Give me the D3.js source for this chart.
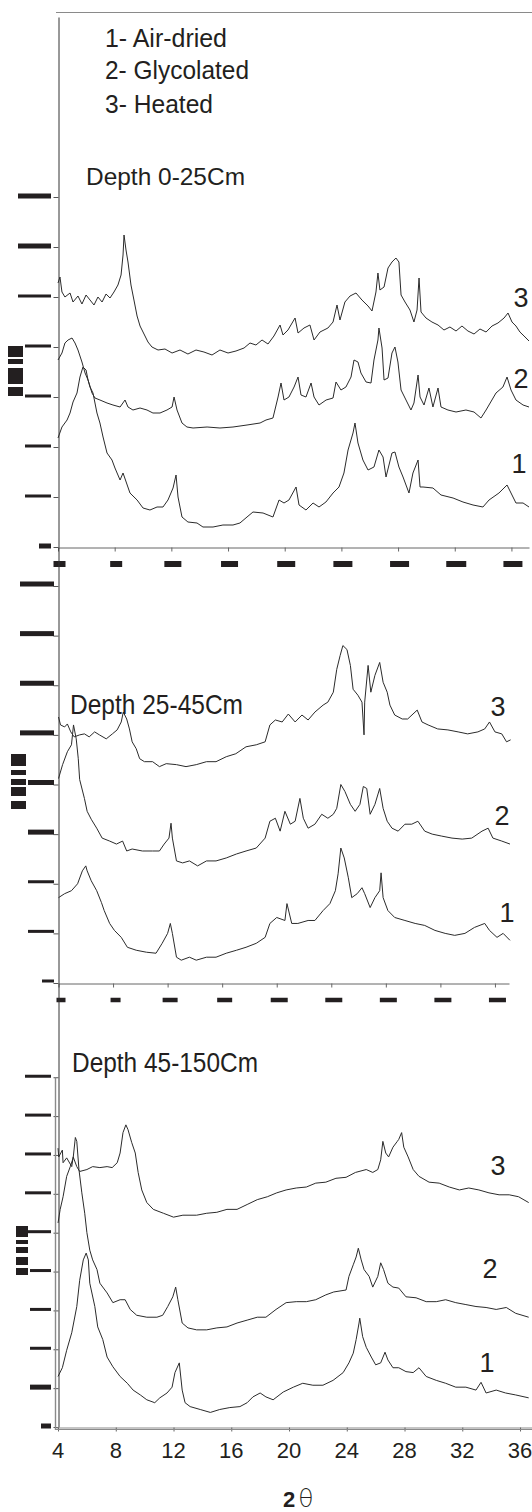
<!DOCTYPE html>
<html>
<head>
<meta charset="utf-8">
<script src="https://cdn.jsdelivr.net/npm/d3@7"></script>
<style>
  html, body { margin: 0; padding: 0; background: #fff; }
  svg { display: block; font-family: "Liberation Sans", Arial, sans-serif; }
</style>
</head>
<body>
<svg id="chart" width="532" height="1512"></svg>
<script>
/* XRD patterns of the clay fraction at three depths (2θ on x, counts on y).
   Tick labels on the intensity axes and panels 1–2 x axes are blacked out in the source. */

const THETA_TICKS = [4, 8, 12, 16, 20, 24, 28, 32, 36];
const LEGEND = ["1- Air-dried", "2- Glycolated", "3- Heated"];
const DEPTHS = ["Depth 0-25Cm", "Depth 25-45Cm", "Depth 45-150Cm"];
const CURVE_LABELS = ["1", "2", "3"];
const Y_TICKS_1 = [0, 50, 100, 150, 200, 250, 300, 350];
const Y_TICKS_2 = [0, 50, 100, 150, 200, 250, 300, 350, 400];
const Y_TICKS_3 = [0, 40, 80, 120, 160, 200, 240, 280, 320, 360];

// ---- Depth 0-25 cm : [2θ, counts]
const airDried_0_25 = [[4.0,109],[4.28,120],[4.64,127],[4.85,134],[5.06,145],[5.34,154],[5.55,170],[5.76,180],[5.98,177],[6.12,167],[6.26,160],[6.47,154],[6.75,134],[6.96,124],[7.18,110],[7.46,94],[7.81,87],[8.02,79],[8.38,67],[8.59,74],[9.08,54],[9.58,47],[10.0,39],[10.49,37],[10.99,40],[11.41,40],[11.76,47],[12.12,59],[12.33,72],[12.47,50],[12.75,30],[13.17,25],[13.81,24],[14.23,20],[14.94,20],[15.64,22],[16.35,22],[16.84,24],[17.34,30],[17.76,35],[18.47,34],[19.17,30],[19.6,47],[19.95,44],[20.3,47],[20.8,60],[21.01,42],[21.5,37],[22.0,44],[22.42,40],[22.91,45],[23.41,54],[23.83,60],[24.18,74],[24.47,97],[24.82,114],[24.96,124],[25.17,104],[25.52,87],[25.88,77],[26.3,80],[26.65,97],[26.94,90],[27.15,70],[27.57,94],[27.78,95],[28.06,80],[28.35,70],[28.77,54],[29.05,74],[29.41,87],[29.55,60],[29.76,60],[30.46,59],[31.03,52],[31.88,49],[32.58,45],[33.29,42],[33.99,40],[34.42,47],[35.12,54],[35.69,62],[35.97,54],[36.32,44],[36.82,44],[37.24,40]];
const glycolated_0_25 = [[4.0,187],[4.28,194],[4.49,204],[4.71,207],[4.99,209],[5.2,204],[5.41,197],[5.69,185],[5.91,174],[6.12,167],[6.4,154],[6.61,149],[6.96,147],[7.46,144],[7.88,142],[8.38,140],[8.73,147],[8.94,140],[9.29,137],[9.79,139],[10.28,137],[10.7,134],[11.2,134],[11.69,137],[12.05,140],[12.19,150],[12.4,137],[12.75,124],[13.1,120],[13.53,119],[14.52,120],[15.43,119],[16.35,120],[17.34,122],[18.26,124],[18.68,127],[19.17,129],[19.53,150],[19.74,164],[19.95,147],[20.3,150],[20.66,160],[20.94,170],[21.15,152],[21.5,150],[21.86,164],[22.07,150],[22.42,142],[22.92,147],[23.41,149],[23.62,165],[23.97,157],[24.32,160],[24.68,170],[24.89,187],[25.17,185],[25.38,174],[25.74,165],[26.09,164],[26.3,187],[26.58,207],[26.65,219],[26.87,199],[27.01,167],[27.29,169],[27.57,194],[27.78,200],[27.99,185],[28.21,157],[28.56,147],[28.91,137],[29.12,144],[29.41,172],[29.55,150],[29.83,142],[30.18,159],[30.46,140],[30.82,159],[31.03,140],[31.52,137],[32.09,135],[32.79,137],[33.36,135],[33.85,129],[34.21,137],[34.91,154],[35.4,160],[35.69,170],[35.97,157],[36.32,147],[36.82,142],[37.24,140]];
const heated_0_25 = [[4.0,264],[4.14,270],[4.28,255],[4.49,250],[4.85,254],[5.06,245],[5.41,251],[5.69,243],[5.98,252],[6.26,247],[6.54,242],[6.82,250],[7.11,245],[7.39,253],[7.67,249],[7.95,255],[8.23,262],[8.45,272],[8.59,292],[8.66,312],[8.8,297],[8.94,285],[9.15,262],[9.36,247],[9.58,231],[9.79,221],[10.07,213],[10.35,205],[10.63,200],[11.06,197],[11.55,198],[12.05,194],[12.61,197],[13.17,193],[13.74,197],[14.3,195],[14.87,192],[15.43,197],[16.0,194],[16.56,196],[17.13,199],[17.55,204],[17.97,202],[18.4,207],[18.82,203],[19.24,211],[19.67,222],[19.88,212],[20.23,217],[20.73,229],[20.94,214],[21.36,219],[21.78,222],[22.07,207],[22.49,215],[23.05,219],[23.41,225],[23.69,242],[23.9,227],[24.25,245],[24.61,251],[25.03,254],[25.45,247],[25.88,241],[26.16,236],[26.44,255],[26.58,274],[26.72,257],[27.01,260],[27.29,279],[27.57,285],[27.85,289],[28.06,285],[28.21,252],[28.49,245],[28.84,237],[29.12,225],[29.34,237],[29.48,269],[29.62,235],[29.97,229],[30.39,225],[30.82,222],[31.24,217],[31.66,220],[32.09,216],[32.51,221],[32.93,216],[33.36,213],[33.78,218],[34.21,215],[34.63,221],[35.05,224],[35.48,229],[35.76,234],[36.04,225],[36.32,221],[36.6,215],[36.89,211],[37.24,206]];

// ---- Depth 25-45 cm
const airDried_25_45 = [[4.0,86],[4.45,90],[4.95,93],[5.4,100],[5.75,113],[6.0,118],[6.1,113],[6.4,103],[6.8,93],[7.15,81],[7.35,73],[7.75,60],[8.1,53],[8.6,46],[9.05,36],[9.7,33],[10.45,31],[11.15,30],[11.6,40],[12.0,50],[12.2,60],[12.35,50],[12.65,26],[13.0,23],[13.6,26],[14.1,23],[14.85,26],[15.55,26],[16.3,30],[17.05,33],[17.75,36],[18.5,40],[19.15,46],[19.5,60],[20.0,66],[20.6,63],[20.75,80],[21.1,60],[21.55,60],[22.3,63],[22.8,63],[23.4,73],[23.9,80],[24.3,93],[24.5,110],[24.7,136],[24.95,126],[25.25,106],[25.5,86],[25.9,90],[26.25,96],[26.45,90],[26.85,76],[27.2,86],[27.55,93],[27.65,111],[27.8,86],[28.15,73],[28.65,66],[29.4,63],[30.15,60],[30.85,58],[31.6,53],[32.35,50],[33.05,48],[33.8,50],[34.5,56],[35.25,60],[35.6,53],[36.15,46],[36.6,50],[37.1,43]];
const glycolated_25_45 = [[4.0,206],[4.3,220],[4.65,233],[4.95,240],[5.1,260],[5.3,246],[5.45,226],[5.55,205],[5.9,186],[6.1,173],[6.4,165],[6.8,156],[7.2,146],[7.75,143],[8.25,140],[8.7,143],[9.0,133],[9.4,135],[10.15,133],[10.9,133],[11.4,133],[11.75,140],[12.1,146],[12.25,161],[12.35,146],[12.65,123],[13.1,121],[13.6,123],[14.2,118],[14.85,123],[15.55,123],[16.3,126],[17.05,130],[17.75,133],[18.5,136],[19.15,146],[19.5,163],[19.9,166],[20.25,153],[20.6,173],[21.0,160],[21.35,163],[21.7,186],[21.95,166],[22.3,156],[22.8,160],[23.3,170],[23.75,166],[24.15,170],[24.4,176],[24.7,200],[25.0,193],[25.4,180],[25.75,173],[26.1,180],[26.35,198],[26.6,196],[26.85,170],[27.2,180],[27.55,196],[27.8,176],[28.1,163],[28.45,156],[28.9,153],[29.4,160],[29.9,160],[30.35,163],[30.85,153],[31.4,150],[32.1,148],[32.85,146],[33.6,145],[34.3,146],[35.05,153],[35.5,156],[35.85,146],[36.5,143],[37.1,140]];
const heated_25_45 = [[4.0,268],[4.15,260],[4.45,258],[4.65,261],[4.9,253],[5.15,248],[5.55,250],[5.9,251],[6.25,248],[6.65,253],[7.0,250],[7.5,246],[7.95,251],[8.3,255],[8.6,263],[8.75,273],[9.0,266],[9.2,256],[9.4,243],[9.7,236],[9.95,226],[10.3,223],[10.9,223],[11.4,218],[11.9,221],[12.65,220],[13.35,218],[14.1,220],[14.85,223],[15.55,223],[16.3,228],[17.0,231],[17.75,238],[18.5,240],[19.15,243],[19.5,260],[19.9,265],[20.4,263],[20.85,271],[21.35,263],[21.85,270],[22.3,265],[22.8,273],[23.4,280],[23.75,283],[24.15,293],[24.4,316],[24.65,330],[24.85,340],[25.15,336],[25.4,320],[25.6,296],[25.95,290],[26.25,283],[26.4,250],[26.45,283],[26.7,320],[26.9,293],[27.2,310],[27.55,323],[27.8,303],[28.1,293],[28.3,280],[28.65,270],[29.2,266],[29.6,266],[30.3,275],[30.65,263],[31.1,260],[31.8,256],[32.55,255],[33.3,253],[34.0,251],[34.75,253],[35.25,256],[35.6,263],[36.0,253],[36.5,251],[36.85,243],[37.15,245]];

// ---- Depth 45-150 cm
const airDried_45_150 = [[4.0,52],[4.3,61],[4.6,79],[4.95,97],[5.3,124],[5.5,151],[5.75,172],[5.95,179],[6.1,172],[6.2,148],[6.55,124],[6.75,103],[7.1,90],[7.4,72],[7.8,62],[8.3,52],[8.8,45],[9.2,38],[9.7,33],[10.15,28],[10.7,25],[11.05,30],[11.55,35],[11.9,41],[12.1,56],[12.4,66],[12.6,38],[12.8,25],[13.15,21],[13.85,18],[14.55,15],[15.2,18],[15.9,20],[16.6,21],[17.1,25],[17.5,31],[18.0,35],[18.4,31],[18.9,28],[19.6,36],[20.3,41],[20.95,45],[21.65,43],[22.35,43],[23.05,48],[23.75,56],[24.15,66],[24.45,76],[24.65,90],[24.85,107],[24.9,112],[25.1,93],[25.35,82],[25.7,72],[26.0,64],[26.35,66],[26.65,77],[26.85,69],[27.2,61],[27.6,61],[28.1,57],[28.6,56],[29.0,61],[29.5,52],[30.2,48],[30.85,45],[31.55,41],[32.25,41],[32.95,38],[33.3,46],[33.65,35],[34.35,38],[35.0,35],[35.7,33],[36.6,30]];
const glycolated_45_150 = [[4.0,210],[4.15,224],[4.35,237],[4.6,258],[4.85,268],[5.05,277],[5.2,298],[5.3,294],[5.45,265],[5.65,241],[5.85,220],[6.0,200],[6.2,182],[6.4,172],[6.7,162],[6.9,148],[7.4,138],[7.8,128],[8.3,131],[8.65,131],[9.0,121],[9.45,115],[10.15,113],[10.85,113],[11.25,115],[11.6,124],[11.95,134],[12.15,144],[12.3,131],[12.6,107],[13.0,102],[13.6,100],[14.3,100],[15.0,102],[15.7,103],[16.4,107],[17.1,110],[17.8,113],[18.4,113],[19.1,121],[19.8,128],[20.5,129],[21.2,129],[21.85,131],[22.55,136],[23.1,139],[23.95,141],[24.15,155],[24.45,167],[24.65,175],[24.8,184],[25.0,172],[25.2,162],[25.55,155],[25.8,144],[26.15,155],[26.35,169],[26.55,162],[26.85,148],[27.2,144],[27.6,143],[28.1,134],[28.8,133],[29.5,129],[30.2,129],[30.85,131],[31.55,128],[32.25,126],[32.95,124],[33.65,123],[34.35,121],[35.05,123],[35.7,117],[36.6,113]];
const heated_45_150 = [[4.0,287],[4.05,278],[4.3,285],[4.35,272],[4.6,277],[4.95,268],[5.05,278],[5.3,268],[5.5,263],[6.0,265],[6.4,268],[6.9,267],[7.4,268],[7.75,267],[8.1,272],[8.3,282],[8.5,303],[8.7,311],[8.85,306],[9.1,293],[9.35,282],[9.55,262],[9.8,244],[10.15,231],[10.6,224],[11.3,220],[12.0,216],[12.65,218],[13.6,218],[14.3,220],[15.0,221],[15.7,224],[16.4,224],[17.1,229],[17.8,234],[18.5,237],[19.15,241],[19.8,244],[20.5,246],[21.2,247],[21.85,251],[22.55,252],[23.25,256],[23.95,257],[24.6,262],[25.35,265],[25.8,262],[26.15,265],[26.35,275],[26.5,294],[26.7,282],[26.9,278],[27.2,288],[27.5,294],[27.6,296],[27.8,303],[27.95,288],[28.25,278],[28.6,265],[29.0,258],[29.7,252],[30.4,251],[31.1,247],[31.8,244],[32.45,246],[33.15,244],[33.85,241],[34.55,239],[35.25,239],[35.9,237],[36.6,231]];

const svg = d3.select("#chart");
const INK = "#231f20";

const panels = [
  {
    title: DEPTHS[0], series: [airDried_0_25, glycolated_0_25, heated_0_25],
    x: d3.scaleLinear().domain([4, 37.24]).range([58, 529]),
    y: d3.scaleLinear().domain([0, 530]).range([547, 17]),
    yTicks: Y_TICKS_1,
    yBars: [[39,5],[25,3],[25,3],[25,3],[25,3],[18,3],[18,5],[18,5]], yBarRight: 51, yBarShift: -1,
    xBars: [12,12,17,17,18,19,19,20,19], xBarY: 564, xBarH: 6, xBarShift: 1.5,
    titleAt: [86, 185, 24, 159],
    labels: [[519, 473], [521, 388], [521, 307]],
    blocks: [[346,11],[359,5],[368,16],[387,9]], blockX: [8, 23]
  },
  {
    title: DEPTHS[1], series: [airDried_25_45, glycolated_25_45, heated_25_45],
    x: d3.scaleLinear().domain([4, 37.03]).range([58.5, 509]),
    y: d3.scaleLinear().domain([0, 439.3]).range([983, 547]),
    yTicks: Y_TICKS_2,
    yBars: [[42,3],[28,3],[28,3],[28,5],[28,5],[20,5],[20,5],[20,5],[20,5]], yBarRight: 54, yBarShift: -2,
    xBars: [9,10,15,15,17,17,17,17,17], xBarY: 1000, xBarH: 4.5, xBarShift: 2.5,
    titleAt: [70, 714, 28, 173],
    labels: [[507, 922], [502, 825], [498, 716]],
    blocks: [[754,12],[770,5],[779,6],[787,9],[801,8]], blockX: [11, 26]
  },
  {
    title: DEPTHS[2], series: [airDried_45_150, glycolated_45_150, heated_45_150],
    x: d3.scaleLinear().domain([3.86, 36.83]).range([56, 532]),
    y: d3.scaleLinear().domain([0, 457]).range([1427, 983]),
    yTicks: Y_TICKS_3,
    yBars: [[41,5],[30,5],[30,3],[30,3],[30,3],[25,3],[25,3],[25,3],[25,3],[25,3]], yBarRight: 51, yBarShift: -1,
    titleAt: [72, 1072, 27.5, 186],
    labels: [[487, 1372], [490, 1278], [498, 1175]],
    blocks: [[1226,11],[1240,4],[1247,6],[1257,8],[1268,7]], blockX: [16, 28]
  }
];

// top frame line
svg.append("line").attr("x1", 56).attr("x2", 532).attr("y1", 12.5).attr("y2", 12.5)
  .attr("stroke", "#8a8a8a").attr("stroke-width", 1);

// legend
svg.append("g").selectAll("text").data(LEGEND).join("text")
  .attr("x", 105).attr("y", (d, i) => [47, 79, 113][i])
  .attr("font-size", 26.5).attr("fill", INK)
  .attr("textLength", (d, i) => [122, 144, 108][i]).attr("lengthAdjust", "spacingAndGlyphs")
  .text(d => d);

const line = (p) => d3.line().x(d => p.x(d[0])).y(d => p.y(d[1]));

panels.forEach((p, pi) => {
  const g = svg.append("g");

  // y axis (ticks only, labels redacted)
  const yAx = g.append("g").attr("transform", "translate(58.5,0)")
    .call(d3.axisLeft(p.y).tickValues(p.yTicks).tickSize(5).tickSizeOuter(0).tickFormat(""));
  yAx.select(".domain").attr("stroke", "#333");
  yAx.selectAll(".tick line").attr("stroke", "#555");

  // redacted y tick labels
  g.append("g").selectAll("rect").data(p.yTicks).join("rect")
    .attr("x", (d, i) => p.yBars[i][0])
    .attr("width", (d, i) => p.yBarRight - p.yBars[i][0])
    .attr("y", (d, i) => p.y(d) + p.yBarShift - p.yBars[i][1] / 2)
    .attr("height", (d, i) => p.yBars[i][1])
    .attr("fill", INK);

  // redacted axis title
  g.append("g").selectAll("rect").data(p.blocks).join("rect")
    .attr("x", p.blockX[0]).attr("width", p.blockX[1] - p.blockX[0])
    .attr("y", d => d[0]).attr("height", d => d[1]).attr("fill", INK);

  // x axis
  const y0 = p.y(0);
  const xAx = g.append("g").attr("transform", `translate(0,${y0 + 0.5})`)
    .call(d3.axisBottom(p.x).tickValues(THETA_TICKS).tickSize(4).tickSizeOuter(0).tickFormat(""));
  xAx.select(".domain").attr("stroke", pi === 2 ? "#8a8a8a" : "#666");
  xAx.selectAll(".tick line").attr("stroke", "#666");

  if (pi < 2) {
    g.append("g").selectAll("rect").data(THETA_TICKS).join("rect")
      .attr("x", (d, i) => p.x(d) + p.xBarShift - p.xBars[i] / 2)
      .attr("width", (d, i) => p.xBars[i])
      .attr("y", p.xBarY - p.xBarH / 2).attr("height", p.xBarH)
      .attr("fill", INK);
  } else {
    // doubled frame of the last panel
    g.append("line").attr("x1", p.x.range()[0]).attr("x2", p.x.range()[1])
      .attr("y1", y0 + 2.5).attr("y2", y0 + 2.5).attr("stroke", "#8a8a8a");
    g.append("line").attr("x1", 55.5).attr("x2", 55.5)
      .attr("y1", p.y(360)).attr("y2", y0 + 3).attr("stroke", "#8a8a8a").attr("stroke-width", 1.4);
    g.append("g").selectAll("text").data(THETA_TICKS).join("text")
      .attr("x", d => p.x(d)).attr("y", 1458)
      .attr("text-anchor", "middle").attr("font-size", 22).attr("fill", INK)
      .text(d => d);
    const t = g.append("text").attr("x", 283).attr("y", 1507).attr("fill", INK);
    t.append("tspan").attr("font-size", 22).attr("font-weight", "bold").text("2");
    t.append("tspan").attr("dx", 3).attr("font-size", 25)
      .attr("font-family", "'DejaVu Sans', sans-serif").attr("font-weight", 200).text("θ");
  }

  // patterns
  g.append("g").selectAll("path").data(p.series).join("path")
    .attr("d", s => line(p)(s))
    .attr("fill", "none").attr("stroke", "#2b2b2b").attr("stroke-width", 1)
    .attr("stroke-linejoin", "miter");

  // curve numbers
  g.append("g").selectAll("text").data(p.labels).join("text")
    .attr("x", d => d[0]).attr("y", d => d[1])
    .attr("text-anchor", "middle").attr("font-size", 27).attr("fill", INK)
    .text((d, i) => CURVE_LABELS[i]);

  // panel title
  g.append("text").attr("x", p.titleAt[0]).attr("y", p.titleAt[1])
    .attr("font-size", p.titleAt[2]).attr("fill", INK)
    .attr("textLength", p.titleAt[3]).attr("lengthAdjust", "spacingAndGlyphs")
    .text(p.title);
});
</script>
</body>
</html>
